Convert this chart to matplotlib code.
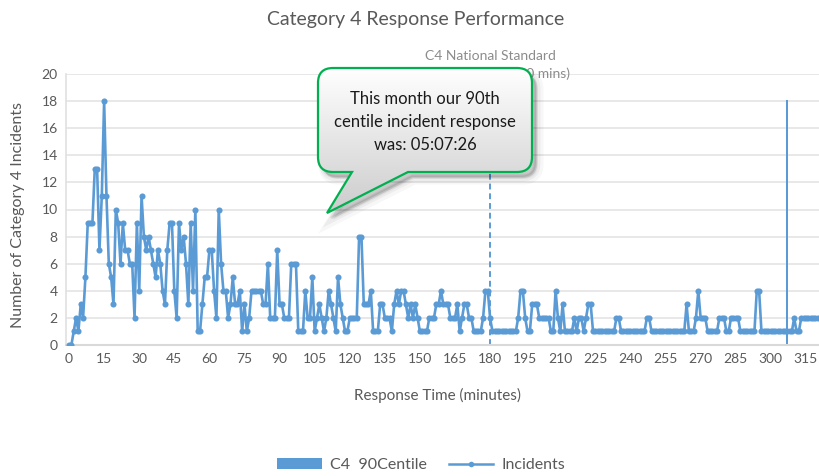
import numpy as np
import matplotlib
matplotlib.use("Agg")
import matplotlib.pyplot as plt
from matplotlib.path import Path
from matplotlib.patches import PathPatch, Patch
from matplotlib.lines import Line2D
from matplotlib.transforms import Affine2D

# ---------------- data ----------------
MINUTES = list(range(0, 321))
INCIDENTS = [
    0, 0, 1, 2, 1, 3, 2, 5, 9, 9,
    9, 13, 13, 7, 11, 18, 11, 6, 5, 3,
    10, 9, 6, 9, 7, 7, 6, 6, 2, 9,
    4, 11, 8, 7, 8, 7, 6, 5, 7, 6,
    4, 3, 7, 9, 9, 4, 2, 9, 7, 8,
    6, 3, 9, 4, 10, 1, 1, 3, 5, 5,
    7, 7, 4, 2, 10, 6, 4, 4, 2, 3,
    5, 3, 3, 4, 1, 3, 1, 2, 4, 4,
    4, 4, 4, 3, 3, 6, 2, 2, 2, 7,
    3, 3, 2, 2, 2, 6, 6, 6, 1, 1,
    1, 4, 2, 2, 5, 1, 2, 3, 2, 1,
    2, 4, 3, 2, 1, 5, 3, 2, 1, 1,
    2, 2, 2, 2, 8, 8, 3, 3, 3, 4,
    1, 1, 1, 3, 3, 2, 2, 2, 1, 3,
    4, 3, 4, 4, 3, 2, 3, 2, 3, 2,
    1, 1, 1, 1, 2, 2, 2, 3, 3, 4,
    3, 3, 3, 2, 2, 2, 3, 1, 2, 3,
    3, 2, 2, 1, 1, 1, 1, 2, 4, 4,
    2, 1, 1, 1, 1, 1, 1, 1, 1, 1,
    1, 1, 2, 4, 4, 2, 1, 1, 3, 3,
    3, 2, 2, 2, 2, 2, 1, 1, 4, 2,
    1, 3, 1, 1, 1, 1, 2, 1, 2, 2,
    1, 2, 3, 3, 1, 1, 1, 1, 1, 1,
    1, 1, 1, 1, 2, 2, 1, 1, 1, 1,
    1, 1, 1, 1, 1, 1, 1, 2, 2, 1,
    1, 1, 1, 1, 1, 1, 1, 1, 1, 1,
    1, 1, 1, 1, 3, 1, 1, 1, 2, 4,
    2, 2, 2, 1, 1, 1, 1, 1, 2, 2,
    2, 1, 1, 2, 2, 2, 2, 1, 1, 1,
    1, 1, 1, 1, 4, 4, 1, 1, 1, 1,
    1, 1, 1, 1, 1, 1, 1, 1, 1, 1,
    2, 1, 1, 2, 2, 2, 2, 2, 2, 2,
    2,
]
CENTILE_MINUTE = [307]          # 05:07:26
CENTILE_VALUE = [18.1]
NATIONAL_STANDARD_MINUTE = 180
NATIONAL_STANDARD_TOP = 20
X_TICKS = [0, 15, 30, 45, 60, 75, 90, 105, 120, 135, 150, 165, 180, 195, 210,
           225, 240, 255, 270, 285, 300, 315]
Y_TICKS = [0, 2, 4, 6, 8, 10, 12, 14, 16, 18, 20]

TITLE = "Category 4 Response Performance"
XLABEL = "Response Time (minutes)"
YLABEL = "Number of Category 4 Incidents"
STANDARD_LABEL = "C4 National Standard\nResponse Time (180 mins)"
CALLOUT_TEXT = "This month our 90th\ncentile incident response\nwas: 05:07:26"
LEGEND_LABELS = ["C4  90Centile", "Incidents"]

# ---------------- style ----------------
BLUE = "#5b9bd5"
GREY_TXT = "#595959"
FONT = ["Lato", "DejaVu Sans"]
plt.rcParams["font.family"] = FONT

W, H = 819, 476
fig = plt.figure(figsize=(W / 100, H / 100), dpi=100)

def fx(px):
    return px / W

def fy(py):
    return 1 - py / H

# main axes: x=66..819 px, y=74..345 px
ax = fig.add_axes([fx(66), fy(345), fx(819) - fx(66), fy(74) - fy(345)])
ax.set_xlim(-1.3, 320.6)
ax.set_ylim(0, 20)

ax.set_yticks(Y_TICKS)
ax.set_xticks(X_TICKS)
ax.set_xticklabels([str(t) for t in X_TICKS])
ax.tick_params(axis="both", length=0, labelsize=10, labelcolor=GREY_TXT)
ax.tick_params(axis="x", pad=6)
ax.tick_params(axis="y", pad=6)
ax.grid(axis="y", color="#e8e8e8", lw=1.4)
ax.set_axisbelow(True)
for s in ["top", "right"]:
    ax.spines[s].set_visible(False)
ax.spines["bottom"].set_color("#d9d9d9")
ax.spines["bottom"].set_linewidth(1.5)
ax.spines["left"].set_color("#e0e0e0")
ax.spines["left"].set_linewidth(1.2)

# 90th centile column
ax.bar(CENTILE_MINUTE, CENTILE_VALUE, width=0.8, color=BLUE, zorder=2)
# national standard dashed line
ax.plot([NATIONAL_STANDARD_MINUTE, NATIONAL_STANDARD_MINUTE],
        [0, NATIONAL_STANDARD_TOP], color=BLUE, lw=1.4, ls=(0, (3, 2)), zorder=2)
# incidents line
ax.plot(MINUTES, INCIDENTS, color=BLUE, lw=1.9, marker="o", ms=4.4,
        markeredgewidth=0, zorder=3)

# texts
fig.text(fx(416), fy(20), TITLE, ha="center", va="center", fontsize=14,
         color=GREY_TXT)
fig.text(fx(437), fy(395), XLABEL, ha="center", va="center", fontsize=11,
         color=GREY_TXT)
fig.text(fx(18), fy(215), YLABEL, ha="center", va="center", fontsize=11.5,
         color=GREY_TXT, rotation=90)
fig.text(fx(490), fy(65), STANDARD_LABEL, ha="center", va="center",
         fontsize=10, color="#8c8c8c", linespacing=1.6)

# legend
handles = [Patch(facecolor=BLUE, edgecolor="none"),
           Line2D([0], [0], color=BLUE, lw=1.8, marker="o", ms=4,
                  markeredgewidth=0)]
fig.legend(handles, LEGEND_LABELS, loc="center", bbox_to_anchor=(fx(421), fy(465)),
           ncol=2, frameon=False, fontsize=11.5, labelcolor=GREY_TXT,
           handlelength=2.8, handleheight=0.7, columnspacing=1.4, handletextpad=0.5)

# ---------------- callout (overlay in pixel coordinates) ----------------
ov = fig.add_axes([0, 0, 1, 1], facecolor="none")
ov.set_zorder(10)
ov.set_xlim(0, W)
ov.set_ylim(H, 0)
ov.axis("off")

L, R, T, B, r = 318, 532, 68, 172, 15
tail_a, tail_b, tip = 408, 352, (327, 213)
verts = [(L + r, T), (R - r, T), (R, T), (R, T + r), (R, B - r), (R, B),
         (R - r, B), (tail_a, B), tip, (tail_b, B), (L + r, B), (L, B),
         (L, B - r), (L, T + r), (L, T), (L + r, T), (L + r, T)]
codes = [Path.MOVETO, Path.LINETO, Path.CURVE3, Path.CURVE3, Path.LINETO,
         Path.CURVE3, Path.CURVE3, Path.LINETO, Path.LINETO, Path.LINETO,
         Path.LINETO, Path.CURVE3, Path.CURVE3, Path.LINETO, Path.CURVE3,
         Path.CURVE3, Path.CLOSEPOLY]
cpath = Path(verts, codes)

# soft shadow
for k, (dx, dy, a, lw) in enumerate([(6, 7, 0.05, 8), (5, 6, 0.07, 5), (4, 5, 0.10, 2)]):
    sp = PathPatch(cpath, facecolor=(0, 0, 0, a), edgecolor=(0, 0, 0, a * 0.6),
                   lw=lw, transform=Affine2D().translate(dx, dy) + ov.transData,
                   zorder=5 + k)
    ov.add_patch(sp)

# gradient fill clipped to callout
grad = np.linspace(0, 1, 256).reshape(-1, 1)
top_c = np.array([1.0, 1.0, 1.0])
bot_c = np.array([0.80, 0.80, 0.80])
img = top_c + (bot_c - top_c) * grad
img = np.repeat(img[:, None, :], 2, axis=1)
im = ov.imshow(img, extent=(L, R, tip[1], T), aspect="auto", zorder=9,
               interpolation="bilinear")
clip = PathPatch(cpath, facecolor="none", edgecolor="none", transform=ov.transData)
ov.add_patch(clip)
im.set_clip_path(clip)
ov.add_patch(PathPatch(cpath, facecolor="none", edgecolor="#00b050", lw=1.6,
                       zorder=10))
ov.text((L + R) / 2, 122, CALLOUT_TEXT, ha="center", va="center", fontsize=12,
        color="#1a1a1a", linespacing=1.55, zorder=11)
ov.set_xlim(0, W)
ov.set_ylim(H, 0)

fig.savefig("out.png", dpi=100)
